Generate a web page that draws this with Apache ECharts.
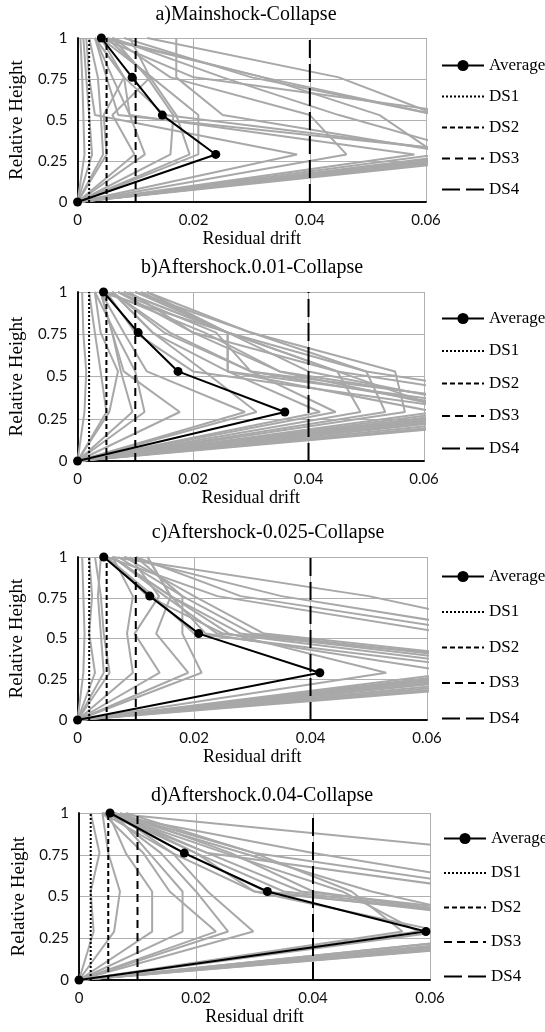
<!DOCTYPE html>
<html>
<head>
<meta charset="utf-8">
<script src="https://cdn.jsdelivr.net/npm/echarts@6/dist/echarts.min.js"></script>
<style>
  html, body { margin: 0; padding: 0; background: #fff; }
  #chart { width: 545px; height: 1032px; }
</style>
</head>
<body>
<div id="chart"></div>
<script>
// story heights (relative) at which drifts are given
const heights = [0, 0.29, 0.53, 0.76, 1];
const dsNames = ['DS1', 'DS2', 'DS3', 'DS4'];
const dsLimits = [0.002, 0.005, 0.01, 0.04];
const xTicks = [0, 0.02, 0.04, 0.06];
const yTicks = [0, 0.25, 0.5, 0.75, 1];

const titles = [
  'a)Mainshock-Collapse',
  'b)Aftershock.0.01-Collapse',
  'c)Aftershock-0.025-Collapse',
  'd)Aftershock.0.04-Collapse'
];

// average residual drift per panel
const avgA = [0, 0.0238, 0.0146, 0.0094, 0.0041];
const avgB = [0, 0.0359, 0.0174, 0.0105, 0.0045];
const avgC = [0, 0.0416, 0.0208, 0.0124, 0.0045];
const avgD = [0, 0.0593, 0.0322, 0.018, 0.0053];

// individual records (grey), drift at each height
const greyA = [
  [0, 0.0208, 0.0208, 0.0128, 0.004],
  [0, 0.0193, 0.017, 0.0125, 0.005],
  [0, 0.016, 0.0165, 0.012, 0.006],
  [0, 0.0116, 0.009, 0.008, 0.003],
  [0, 0.0098, 0.006, 0.0125, 0.009],
  [0, 0.0044, 0.004, 0.0035, 0.002],
  [0, 0.0025, 0.002, 0.0015, 0.001],
  [0, 0.0378, 0.003, 0.002, 0.0015],
  [0, 0.0463, 0.040, 0.016, 0.006],
  [0, 0.070, 0.015, 0.008, 0.004],
  [0, 0.075, 0.062, 0.032, 0.005],
  [0, 0.062, 0.052, 0.032, 0.004],
  [0, 0.068, 0.062, 0.030, 0.008],
  [0, 0.072, 0.007, 0.005, 0.003],
  [0, 0.066, 0.025, 0.017, 0.017],
  [0, 0.078, 0.068, 0.020, 0.004],
  [0, 0.074, 0.062, 0.045, 0.012],
  [0, 0.005, 0.0045, 0.008, 0.003],
  [0, 0.0012, 0.001, 0.0008, 0.0005],
  [0, 0.069, 0.045, 0.025, 0.006],
  [0, 0.058, 0.009, 0.006, 0.003]
];
const greyB = [
  [0, 0.0012, 0.0015, 0.001, 0.0008],
  [0, 0.005, 0.004, 0.003, 0.002],
  [0, 0.0095, 0.0075, 0.006, 0.004],
  [0, 0.0116, 0.010, 0.0065, 0.003],
  [0, 0.0177, 0.008, 0.006, 0.004],
  [0, 0.029, 0.012, 0.008, 0.004],
  [0, 0.031, 0.022, 0.013, 0.006],
  [0, 0.042, 0.026, 0.026, 0.008],
  [0, 0.0447, 0.030, 0.015, 0.006],
  [0, 0.049, 0.045, 0.020, 0.007],
  [0, 0.0533, 0.050, 0.026, 0.010],
  [0, 0.0567, 0.055, 0.030, 0.012],
  [0, 0.065, 0.045, 0.026, 0.008],
  [0, 0.068, 0.035, 0.020, 0.009],
  [0, 0.072, 0.030, 0.016, 0.006],
  [0, 0.075, 0.040, 0.026, 0.011],
  [0, 0.080, 0.035, 0.022, 0.005],
  [0, 0.085, 0.030, 0.024, 0.007],
  [0, 0.090, 0.045, 0.026, 0.004],
  [0, 0.062, 0.026, 0.026, 0.012],
  [0, 0.070, 0.020, 0.010, 0.005],
  [0, 0.0055, 0.007, 0.004, 0.003],
  [0, 0.095, 0.050, 0.030, 0.010],
  [0, 0.078, 0.026, 0.013, 0.006]
];
const greyC = [
  [0, 0.001, 0.0012, 0.001, 0.0008],
  [0, 0.003, 0.002, 0.0025, 0.002],
  [0, 0.0055, 0.0045, 0.004, 0.003],
  [0, 0.0095, 0.0085, 0.0095, 0.006],
  [0, 0.0141, 0.0098, 0.014, 0.009],
  [0, 0.019, 0.0135, 0.016, 0.012],
  [0, 0.0213, 0.018, 0.018, 0.010],
  [0, 0.053, 0.026, 0.016, 0.006],
  [0, 0.080, 0.025, 0.012, 0.005],
  [0, 0.085, 0.028, 0.016, 0.006],
  [0, 0.090, 0.030, 0.018, 0.007],
  [0, 0.075, 0.020, 0.013, 0.005],
  [0, 0.095, 0.032, 0.020, 0.008],
  [0, 0.070, 0.080, 0.050, 0.006],
  [0, 0.072, 0.075, 0.035, 0.008],
  [0, 0.068, 0.070, 0.028, 0.010],
  [0, 0.078, 0.064, 0.024, 0.005],
  [0, 0.100, 0.024, 0.015, 0.006],
  [0, 0.0045, 0.004, 0.0035, 0.004],
  [0, 0.065, 0.022, 0.016, 0.012]
];
const greyD = [
  [0, 0.0025, 0.002, 0.0035, 0.002],
  [0, 0.006, 0.007, 0.005, 0.004],
  [0, 0.0125, 0.0125, 0.008, 0.005],
  [0, 0.0177, 0.0177, 0.012, 0.006],
  [0, 0.0234, 0.0155, 0.011, 0.004],
  [0, 0.0255, 0.020, 0.014, 0.005],
  [0, 0.0298, 0.022, 0.016, 0.006],
  [0, 0.0553, 0.0466, 0.030, 0.008],
  [0, 0.058, 0.045, 0.025, 0.005],
  [0, 0.090, 0.090, 0.0745, 0.005],
  [0, 0.085, 0.080, 0.040, 0.004],
  [0, 0.088, 0.075, 0.030, 0.006],
  [0, 0.080, 0.070, 0.022, 0.005],
  [0, 0.095, 0.035, 0.020, 0.005],
  [0, 0.100, 0.038, 0.022, 0.006],
  [0, 0.092, 0.032, 0.018, 0.005],
  [0, 0.098, 0.030, 0.016, 0.004],
  [0, 0.090, 0.040, 0.026, 0.007],
  [0, 0.080, 0.050, 0.028, 0.005],
  [0, 0.062, 0.030, 0.020, 0.006]
];

const averages = [avgA, avgB, avgC, avgD];
const greys = [greyA, greyB, greyC, greyD];

// layout of the four panels
const panels = [
  { left: 76, top: 38, width: 350, height: 164, titleX: 246, titleY: 5, legendLeft: 441, legendTop: 57, legendGap: 14 },
  { left: 76, top: 292, width: 348, height: 169, titleX: 252, titleY: 258, legendLeft: 441, legendTop: 310, legendGap: 15.5 },
  { left: 75, top: 557, width: 352, height: 163, titleX: 268, titleY: 523, legendLeft: 441, legendTop: 568, legendGap: 18.5 },
  { left: 79, top: 813, width: 351, height: 167, titleX: 262, titleY: 786, legendLeft: 443, legendTop: 830, legendGap: 17.5 }
];

const dsStyles = [[2, 2], [5, 3], [8, 5], [18, 6]];
const serif = 'Liberation Serif';
const sans = 'Lato';

function toPoints(xs) {
  return heights.map((h, k) => [xs[k], h]);
}

const grid = [], xAxis = [], yAxis = [], title = [], legend = [], series = [];

panels.forEach((p, i) => {
  grid.push({ left: p.left, top: p.top, width: p.width, height: p.height });

  title.push({
    text: titles[i], left: p.titleX, top: p.titleY, textAlign: 'center', padding: 0,
    textStyle: { fontFamily: serif, fontSize: 20, fontWeight: 'normal', color: '#000' }
  });

  xAxis.push({
    type: 'value', gridIndex: i, min: 0, max: 0.06, interval: 0.02,
    name: 'Residual drift', nameLocation: 'middle', nameGap: 28,
    nameTextStyle: { fontFamily: serif, fontSize: 18, color: '#000' },
    axisLine: { show: true, lineStyle: { color: '#000', width: 1.5 } },
    axisTick: { show: false },
    axisLabel: { fontFamily: sans, fontSize: 15, color: '#111', margin: 11 },
    splitLine: { show: true, lineStyle: { color: '#b0b0b0', width: 1 } }
  });
  yAxis.push({
    type: 'value', gridIndex: i, min: 0, max: 1, interval: 0.25,
    name: 'Relative Height', nameLocation: 'middle', nameGap: 43,
    nameTextStyle: { fontFamily: serif, fontSize: 19, color: '#000' },
    axisLine: { show: true, lineStyle: { color: '#000', width: 1.5 } },
    axisTick: { show: false },
    axisLabel: { fontFamily: sans, fontSize: 15, color: '#111', margin: 10 },
    splitLine: { show: true, lineStyle: { color: '#b0b0b0', width: 1 } }
  });

  // DS entries: keep the dashed line, hide the symbol that ECharts adds
  const hidden = { color: 'rgba(0,0,0,0)', borderWidth: 0, opacity: 0 };
  legend.push({
    orient: 'vertical', left: p.legendLeft, top: p.legendTop, padding: 0,
    itemWidth: 42, itemHeight: 14, itemGap: p.legendGap,
    data: [{ name: 'Average' }].concat(dsNames.map(n => ({ name: n, itemStyle: hidden }))),
    textStyle: { fontFamily: serif, fontSize: 17, color: '#000' },
    selectedMode: false
  });

  greys[i].forEach(g => {
    series.push({
      type: 'line', xAxisIndex: i, yAxisIndex: i, data: toPoints(g),
      symbol: 'none', silent: true, z: 2,
      lineStyle: { color: '#a8a8a8', width: 2 }
    });
  });

  dsLimits.forEach((d, k) => {
    series.push({
      name: dsNames[k], type: 'line', xAxisIndex: i, yAxisIndex: i,
      data: [[d, 0], [d, 1]], symbol: 'none', z: 4,
      lineStyle: { color: '#000', width: 2, type: dsStyles[k] },
      itemStyle: { color: '#000' }
    });
  });

  series.push({
    name: 'Average', type: 'line', xAxisIndex: i, yAxisIndex: i,
    data: toPoints(averages[i]), symbol: 'circle', symbolSize: 9, z: 6,
    lineStyle: { color: '#000', width: 2 },
    itemStyle: { color: '#000' }
  });
});

// top and right axes that close the black frame of each plot
panels.forEach((p, i) => {
  xAxis.push({
    type: 'value', gridIndex: i, position: 'top', min: 0, max: 0.06,
    axisLine: { show: true, lineStyle: { color: '#000', width: 1.5 } },
    axisTick: { show: false }, axisLabel: { show: false }, splitLine: { show: false }
  });
  yAxis.push({
    type: 'value', gridIndex: i, position: 'right', min: 0, max: 1,
    axisLine: { show: true, lineStyle: { color: '#000', width: 1.5 } },
    axisTick: { show: false }, axisLabel: { show: false }, splitLine: { show: false }
  });
});

const chart = echarts.init(document.getElementById('chart'), null, { renderer: 'canvas' });
chart.setOption({
  animation: false,
  backgroundColor: '#fff',
  title, legend, grid, xAxis, yAxis, series
});
</script>
</body>
</html>
